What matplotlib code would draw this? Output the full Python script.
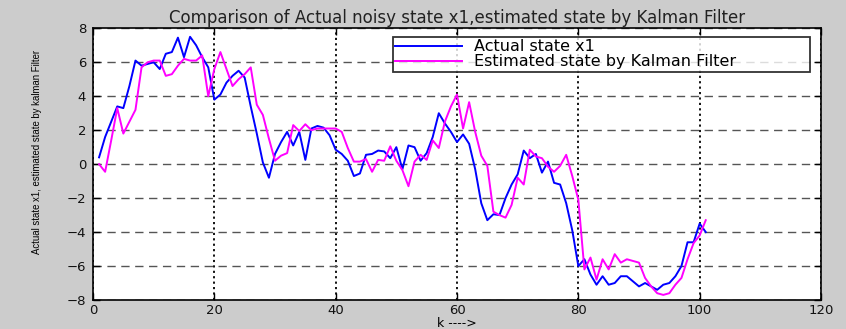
import numpy as np
import matplotlib
matplotlib.use('Agg')
import matplotlib.pyplot as plt

# time index
k = np.arange(1, 102)

# actual noisy state x1
actual_x1 = [0.4, 1.6, 2.5, 3.4, 3.3, 4.6, 6.1, 5.8, 5.9, 6.0,
             5.6, 6.5, 6.6, 7.45, 6.3, 7.5, 7.0, 6.3, 5.7, 3.8,
             4.1, 4.8, 5.2, 5.5, 5.1, 3.4, 1.8, 0.1, -0.8, 0.6,
             1.3, 1.9, 1.1, 1.9, 0.25, 2.1, 2.25, 2.15, 1.7, 0.85,
             0.6, 0.2, -0.7, -0.55, 0.55, 0.6, 0.8, 0.75, 0.35, 1.0,
             -0.3, 1.1, 1.0, 0.2, 0.65, 1.6, 3.0, 2.4, 1.9, 1.3,
             1.75, 1.2, -0.3, -2.3, -3.3, -2.95, -3.0, -2.0, -1.2, -0.6,
             0.8, 0.35, 0.6, -0.5, 0.15, -1.1, -1.2, -2.3, -3.9, -6.0,
             -5.6, -6.5, -7.1, -6.6, -7.1, -7.0, -6.6, -6.6, -6.9, -7.2,
             -7.0, -7.2, -7.4, -7.1, -7.0, -6.6, -6.0, -4.6, -4.6, -3.5,
             -4.0]

# Kalman filter estimate
estimated_x1 = [0.0, -0.45, 1.4, 3.3, 1.8, 2.5, 3.2, 5.7, 6.0, 6.1,
                6.1, 5.2, 5.3, 5.8, 6.2, 6.1, 6.1, 6.4, 4.0, 5.6,
                6.6, 5.6, 4.6, 5.0, 5.3, 5.7, 3.5, 2.9, 1.5, 0.2,
                0.5, 0.65, 2.3, 1.95, 2.35, 2.0, 2.1, 2.1, 2.1, 2.1,
                1.9, 0.95, 0.15, 0.15, 0.3, -0.45, 0.25, 0.2, 1.05, 0.2,
                -0.35, -1.3, 0.15, 0.55, 0.25, 1.4, 0.95, 2.5, 3.4, 4.1,
                2.1, 3.65, 1.9, 0.5, -0.1, -2.8, -3.0, -3.15, -2.4, -0.8,
                -1.2, 0.85, 0.45, 0.35, -0.15, -0.45, -0.1, 0.55, -0.7, -2.1,
                -6.2, -5.5, -6.8, -5.6, -6.2, -5.3, -5.8, -5.6, -5.7, -5.8,
                -6.7, -7.2, -7.6, -7.7, -7.6, -7.1, -6.7, -5.6, -4.65, -4.2,
                -3.3]

x_ticks = [0, 20, 40, 60, 80, 100, 120]
y_ticks = [-8, -6, -4, -2, 0, 2, 4, 6, 8]

W, H = 846, 329
fig = plt.figure(figsize=(W / 100, H / 100), dpi=100, facecolor='#cccccc')
ax = fig.add_axes([93 / W, 1 - 300 / H, (821 - 93) / W, (300 - 28.3) / H])
ax.set_facecolor('white')

ax.plot(k, actual_x1, color='#0000ff', lw=1.4, label='Actual state x1')
ax.plot(k, estimated_x1, color='#ff00ff', lw=1.4, label='Estimated state by Kalman Filter')

ax.set_xlim(0, 120)
ax.set_ylim(-8, 8)
ax.set_xticks(x_ticks)
ax.set_yticks(y_ticks)

# grid: dashed horizontals, dotted verticals
ax.yaxis.grid(True, linestyle=(0, (6, 4)), color='#555555', lw=1.0)
ax.xaxis.grid(True, linestyle=(0, (1.2, 1.8)), color='black', lw=1.3)
ax.set_axisbelow(True)

for s in ax.spines.values():
    s.set_linewidth(1.2)
    s.set_color('black')

ax.tick_params(axis='x', direction='in', length=5, width=1.0, top=True,
               labelsize=9.5, pad=3)
ax.tick_params(axis='y', direction='in', length=5, width=1.0, right=True,
               labelsize=9.5, pad=5)
for lab in ax.get_xticklabels() + ax.get_yticklabels():
    lab.set_family('DejaVu Sans')
    lab.set_color('#111111')

ax.set_title('Comparison of Actual noisy state x1,estimated state by Kalman Filter',
             fontsize=12, family='DejaVu Sans', color='#222222', pad=4)
ax.set_xlabel('k ---->', fontsize=9, family='DejaVu Sans')
ax.xaxis.set_label_coords(0.5, -0.087)
ax.xaxis.label.set_va('center')
ax.set_ylabel('Actual state x1, estimated state by kalman Filter', fontsize=6.9,
              family=['Liberation Sans Narrow', 'Liberation Sans'])
ax.yaxis.set_label_coords(-0.077, 0.545)
ax.yaxis.label.set_va('center')

# legend box stretched across the upper-right area
x0 = (393 - 93) / 728
y1 = (300 - 37) / 271.7
y0 = (300 - 68) / 271.7
leg = ax.legend(loc='upper left', bbox_to_anchor=(x0, y0, (810 - 93) / 728 - x0, y1 - y0),
                mode='expand', prop={'family': 'DejaVu Sans', 'size': 11.5},
                frameon=True, fancybox=False, borderaxespad=0.0,
                handlelength=4.2, handletextpad=0.7, borderpad=0.15, labelspacing=0.0)
leg.get_frame().set_edgecolor('black')
leg.get_frame().set_linewidth(1.3)

fig.savefig('out.png', dpi=100, facecolor=fig.get_facecolor())
